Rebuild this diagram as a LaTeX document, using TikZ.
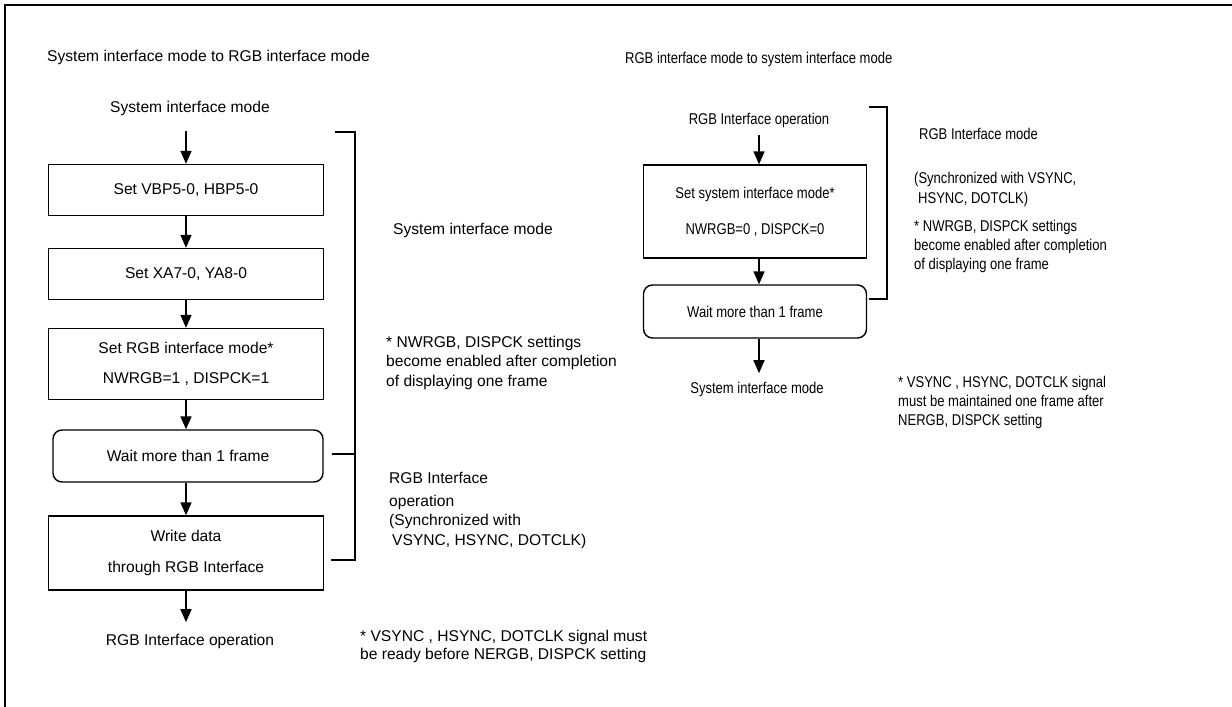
\documentclass[tikz,border=0pt]{standalone}
\usepackage{fontspec}
\setmainfont{Liberation Sans}
\newfontfamily\narrowsans{Liberation Sans}[FakeStretch=0.835]
\usetikzlibrary{arrows.meta}

\begin{document}
\begin{tikzpicture}[x=1pt,y=-1pt,>={Triangle[width=11pt,length=13pt]},
  font=\fontsize{15.6}{19.5}\selectfont,
  flow/.style={->,line width=1.6pt},
  box/.style={draw,line width=1.4pt,minimum width=275pt,inner sep=0pt,align=center},
  waitbox/.style={box,rounded corners=9pt,minimum width=270pt,minimum height=52pt},
  note/.style={anchor=base west,align=left,inner sep=0pt},
  bracket/.style={line width=1.4pt},
  rside/.style={font=\narrowsans\fontsize{15.6}{19}\selectfont}]
  \useasboundingbox (0,0) rectangle (1232,707);
  \draw[line width=2pt] (5,707) -- (5,5) -- (1232,5);

  % system -> RGB
  \node[note] (ltitle) at (47,61) {System interface mode to RGB interface mode};
  \node (lstart) at (190,108) {System interface mode};
  \node[box,minimum height=51pt] (lb1) at (186,190) {Set VBP5-0, HBP5-0};
  \node[box,minimum height=51pt] (lb2) at (186,274) {Set XA7-0, YA8-0};
  \node[box,minimum height=71pt] (lb3) at (186,364)
    {Set RGB interface mode*\\[11pt]NWRGB=1 , DISPCK=1};
  \node[waitbox] (lb4) at (188,456) {Wait more than 1 frame};
  \node[box,minimum height=74pt] (lb5) at (186,553)
    {Write data\\[11pt]through RGB Interface};
  \node (lend) at (190,641) {RGB Interface operation};
  \draw[flow,shorten <=12pt] (lb1.north |- lstart.south) -- (lb1.north);
  \draw[flow] (lb1.south) -- (lb2.north);
  \draw[flow] (lb2.south) -- (lb3.north);
  \draw[flow] (lb3.south) -- (lb3.south |- lb4.north);
  \draw[flow] (lb3.south |- lb4.south) -- (lb5.north);
  \draw[flow,shorten >=8pt] (lb5.south) -- (lb5.south |- lend.north);
  \draw[bracket] (335,132) -- (355,132) -- (355,560) -- (331,560);
  \draw[bracket] (332,454) -- (355,454);
  \node[note] (lsysmode) at (393,234) {System interface mode};
  \node[note] (lnote1) at (386,386)
    {* NWRGB, DISPCK settings\\become enabled after completion\\of displaying one frame};
  \node[note] (lrgbop) at (389,545)
    {RGB Interface\\[3pt]operation\\(Synchronized with\\\hspace{3pt}VSYNC, HSYNC, DOTCLK)};
  \node[note] (lnote2) at (360,659)
    {* VSYNC , HSYNC, DOTCLK signal must\\[-1.5pt]be ready before NERGB, DISPCK setting};

  % RGB -> system
  \begin{scope}[rside]
  \node[note] (rtitle) at (625,63) {RGB interface mode to system interface mode};
  \node (rstart) at (759,120) {RGB Interface operation};
  \node[box,minimum width=223pt,minimum height=93pt] (rb1) at (755,211.5)
    {Set system interface mode*\\[17pt]NWRGB=0 , DISPCK=0};
  \node[waitbox,minimum width=223pt,minimum height=53pt] (rb2) at (755,311.5)
    {Wait more than 1 frame};
  \node (rend) at (757,389) {System interface mode};
  \draw[flow,shorten <=4pt] (rstart.south) -- (rstart.south |- rb1.north);
  \draw[flow] (rstart.south |- rb1.south) -- (rstart.south |- rb2.north);
  \draw[flow,shorten >=5pt] (rstart.south |- rb2.south) -- (rstart.south |- rend.north);
  \draw[bracket] (869,107) -- (887,107) -- (887,299) -- (869,299);
  \node[note] (rrgbmode) at (919,139) {RGB Interface mode};
  \node[note] (rsync) at (914,203)
    {(Synchronized with VSYNC,\\[0.5pt]\hspace{4pt}HSYNC, DOTCLK)};
  \node[note] (rnote1) at (914,269)
    {* NWRGB, DISPCK settings\\become enabled after completion\\of displaying one frame};
  \node[note] (rnote2) at (898,425)
    {* VSYNC , HSYNC, DOTCLK signal\\must be maintained one frame after\\NERGB, DISPCK setting};
  \end{scope}
\end{tikzpicture}
\end{document}
